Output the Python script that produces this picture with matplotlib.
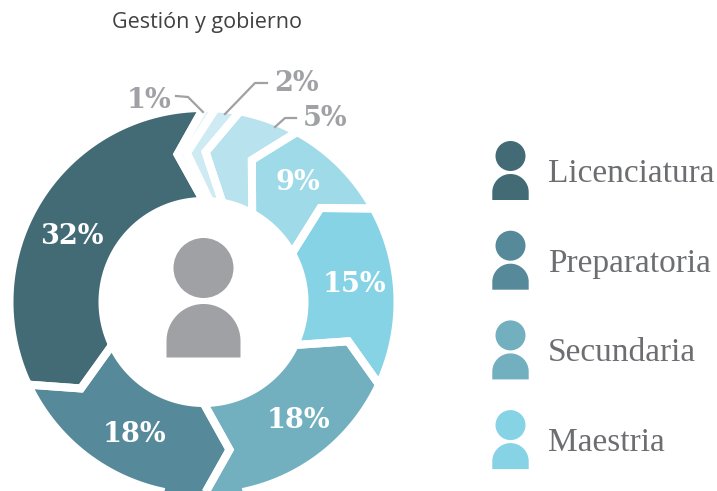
import numpy as np
import matplotlib
matplotlib.use('Agg')
import matplotlib.pyplot as plt
from matplotlib.patches import Circle, Polygon

title = 'Gestión y gobierno'
values = [1, 2, 5, 9, 15, 18, 18, 32]    # percent, clockwise from the top
slice_colors = ['#E3F4F8', '#CEEBF3', '#B8E3EE', '#9EDAE8',
                '#87D3E6', '#72B0C0', '#568A9B', '#426B75']
legend_names = ['Licenciatura', 'Preparatoria', 'Secundaria', 'Maestria']
legend_colors = ['#426B75', '#568A9B', '#72B0C0', '#87D3E6']

GRAY = '#A0A1A4'
CX, CY = 203.5, 302
R_OUT, R_IN, R_TIP = 190, 105, 150
GAP = 8         # px
SHIFT = 10      # degrees the chevron tip leans back


def xy(r, deg):
    a = np.radians(deg)
    return np.column_stack([CX + r * np.sin(a), CY - r * np.cos(a)])


def chevron(a0, a1):
    # stroke is drawn white on top so grow the ring by half of it
    ro, ri = R_OUT + GAP / 2, R_IN - GAP / 2
    n = max(int(a1 - a0), 2) + 1
    outer = xy(ro, np.linspace(a0, a1, n))
    inner = xy(ri, np.linspace(a1, a0, n))
    return np.vstack([outer, xy(R_TIP, [a1 - SHIFT]), inner, xy(R_TIP, [a0 - SHIFT])])


def person(ax, x, head_y, head_r, body_r, body_top, body_bottom, color):
    ax.add_patch(Circle((x, head_y), head_r, fc=color, ec='none'))
    a = np.radians(np.linspace(-90, 90, 60))
    dome = np.column_stack([x + body_r * np.sin(a), body_top + body_r - body_r * np.cos(a)])
    pts = np.vstack([[x - body_r, body_bottom], dome, [x + body_r, body_bottom]])
    ax.add_patch(Polygon(pts, closed=True, fc=color, ec='none'))


fig = plt.figure(figsize=(7.17, 4.91), dpi=100)
ax = fig.add_axes([0, 0, 1, 1])
ax.set_xlim(0, 717)
ax.set_ylim(491, 0)
ax.axis('off')

edges = np.concatenate([[0], np.cumsum(values)]) * 3.6
shapes = [chevron(a0, a1) for a0, a1 in zip(edges[:-1], edges[1:])]
for s, c in zip(shapes, slice_colors):
    ax.add_patch(Polygon(s, closed=True, fc=c, ec='none', zorder=2))
for s in shapes:
    ax.add_patch(Polygon(s, closed=True, fc='none', ec='white', lw=GAP * 0.72,
                         joinstyle='miter', zorder=3))

# centre figure
person(ax, CX, 268, 30, 37, 304, 357.5, GRAY)

# value labels
label_pos = [(149, 100), (296, 83), (325, 118), (298, 183),
             (354, 285), (298, 421), (134, 434), (72, 236)]
for v, (x, y), i in zip(values, label_pos, range(8)):
    ax.text(x, y, '%d%%' % v, ha='center', va='center', fontsize=19.5,
            family='DejaVu Serif', weight='bold',
            color=GRAY if i < 3 else 'white', zorder=5)

# leaders for the three small slices
ax.plot([176, 188, 203], [96, 97, 112], color=GRAY, lw=1.6, zorder=4)
ax.plot([267, 255, 225], [83, 83, 114], color=GRAY, lw=1.6, zorder=4)
ax.plot([296, 285, 275], [118, 118, 127], color=GRAY, lw=1.6, zorder=4)

ax.text(112, 28, title, fontsize=15.5, family='Open Sans', color='#414042')

# legend
for i, (name, c) in enumerate(zip(legend_names, legend_colors)):
    dy = i * 89.7
    person(ax, 510.5, 156 + dy, 15, 18.2, 174 + dy, 200 + dy, c)
    ax.text(548, 182 + dy, name, fontsize=24, family='Liberation Serif', color='#6D6E71')

fig.savefig('out.png', dpi=100, facecolor='white')
